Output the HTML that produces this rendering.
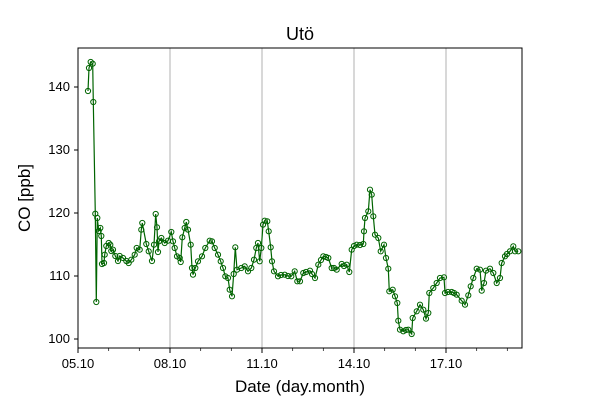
<!DOCTYPE html>
<html><head><meta charset="utf-8"><style>body{margin:0;background:#fff}svg{display:block}</style></head><body>
<svg width="600" height="400" xmlns="http://www.w3.org/2000/svg" font-family="Liberation Sans, DejaVu Sans, sans-serif">
<defs>
<marker id="c" markerUnits="userSpaceOnUse" markerWidth="8" markerHeight="8" refX="4" refY="4" viewBox="0 0 8 8" overflow="visible">
<circle cx="4" cy="4" r="2.6" fill="none" stroke="#006400" stroke-width="1"/>
</marker>
</defs>
<rect width="600" height="400" fill="#fff"/>
<g stroke="#b0b0b0" stroke-width="1">
<line x1="170" y1="48" x2="170" y2="348"/><line x1="262" y1="48" x2="262" y2="348"/><line x1="354" y1="48" x2="354" y2="348"/><line x1="446" y1="48" x2="446" y2="348"/>
</g>
<polyline fill="none" stroke="#006400" stroke-width="1.2" marker-start="url(#c)" marker-mid="url(#c)" marker-end="url(#c)" points="88,91 89,68 90.7,62 92.7,63.7 93.3,102 95.3,213.7 96.3,302 97.3,218 98.7,231 100.3,228 101.3,236 102,264 104,263 104.7,254.7 106.3,246 108.7,243 110.3,244.7 111.3,251 113,249.7 115.3,256 118,261 119.7,256 123,258 126.3,261 128.7,263 131.3,259.7 134.7,254.7 136.7,248 139.7,249.7 141.3,229.7 142.3,223 146.3,244 148.7,251.3 152,261 154,244.7 155.7,214 157,227.3 158,252 159,241.3 161.3,238 164.7,243 168,240.7 171.3,232 173,241.3 174.7,248 177,256.3 179.7,258 180.7,262 182.3,237.3 184.7,228 186.3,222 188,229.7 190.7,244.7 192,268 193,274.7 195.3,268 198,261.3 202,256.3 205.3,248 209.7,240.7 212,241.3 214.7,248 218,254.7 220.7,261.3 223,268 225.3,276.3 228,278 229.7,289.7 232,296.3 233.7,274 235.3,247.3 237,269.7 241.3,268 244.7,266.3 248,271.3 251.3,268 254,259.7 256.3,248 258,243 259.7,261.3 261.3,248 263,224.7 264.7,220.7 267.3,221.3 268.7,231.3 270.7,247.3 272,261.3 274,271.3 278,276.3 281,275 284.7,274.7 288,276 291.3,276.3 294.7,271.3 297.3,281.3 300,281.3 303.3,273 306,272 310,270.7 312,274 315,278 318.3,264.7 321,260 323.3,256.3 326,257 328.3,258 331.7,268 334,268 336.7,269.7 341.7,264 344,266 346.7,264.7 349.3,272 351.7,249.7 354,246 356.7,244.7 360,245 363.3,244 364,231.3 365,218 368.3,211.3 370,189.7 371.7,194.7 373.3,216.3 375,234.7 378.3,238 380.7,251.3 384,244.7 386,258 388.3,268.7 389.3,291.3 392.7,289.7 395,296.3 397.3,303 398.3,320.7 400,329.7 403.3,331.3 406,330 408.3,329.7 411.7,334 412.7,318 416.7,311.3 420,304.7 423.3,309.7 426,318.7 428.3,313 429.3,293 433.3,288 436.7,283 440,278 444,277.3 445,293 448,292 451.7,292 454,293 456.7,294.7 461.7,300.7 465,304.7 468.3,295.3 470.7,286.3 473.3,278 476.7,268.7 480,269.7 481.7,290.7 484,283 486,270.7 490,268.7 493.3,273 496.7,283 500,278 501.7,263 505,256.3 507,254 510,251.3 513.3,246.3 515,251.3 518.3,251.3"/>
<rect x="78" y="48" width="444" height="300" fill="none" stroke="#000" stroke-width="1"/>
<g stroke="#000" stroke-width="1">
<line x1="78" y1="339" x2="74" y2="339"/><line x1="78" y1="276" x2="74" y2="276"/><line x1="78" y1="213" x2="74" y2="213"/><line x1="78" y1="150" x2="74" y2="150"/><line x1="78" y1="87" x2="74" y2="87"/>
<line x1="78" y1="348" x2="78" y2="353"/><line x1="170" y1="348" x2="170" y2="353"/><line x1="262" y1="348" x2="262" y2="353"/><line x1="354" y1="348" x2="354" y2="353"/><line x1="446" y1="348" x2="446" y2="353"/>
<g stroke-width="0.7">
<line x1="108.7" y1="348" x2="108.7" y2="351"/><line x1="139.3" y1="348" x2="139.3" y2="351"/><line x1="200.7" y1="348" x2="200.7" y2="351"/><line x1="231.3" y1="348" x2="231.3" y2="351"/><line x1="292.7" y1="348" x2="292.7" y2="351"/><line x1="323.3" y1="348" x2="323.3" y2="351"/><line x1="384.7" y1="348" x2="384.7" y2="351"/><line x1="415.3" y1="348" x2="415.3" y2="351"/><line x1="476.7" y1="348" x2="476.7" y2="351"/><line x1="507.3" y1="348" x2="507.3" y2="351"/>
</g></g>
<g font-size="13" text-anchor="end" fill="#000">
<text x="70" y="343">100</text><text x="70" y="280">110</text><text x="70" y="217">120</text><text x="70" y="154">130</text><text x="70" y="91">140</text>
</g>
<g font-size="13" text-anchor="middle" fill="#000">
<text x="78" y="368">05.10</text><text x="170" y="368">08.10</text><text x="262" y="368">11.10</text><text x="354" y="368">14.10</text><text x="446" y="368">17.10</text>
</g>
<text x="300" y="392" font-size="17" text-anchor="middle">Date (day.month)</text>
<text x="300" y="40" font-size="18" text-anchor="middle">Utö</text>
<text transform="translate(30,198) rotate(-90)" font-size="17" text-anchor="middle">CO [ppb]</text>
</svg>
</body></html>
